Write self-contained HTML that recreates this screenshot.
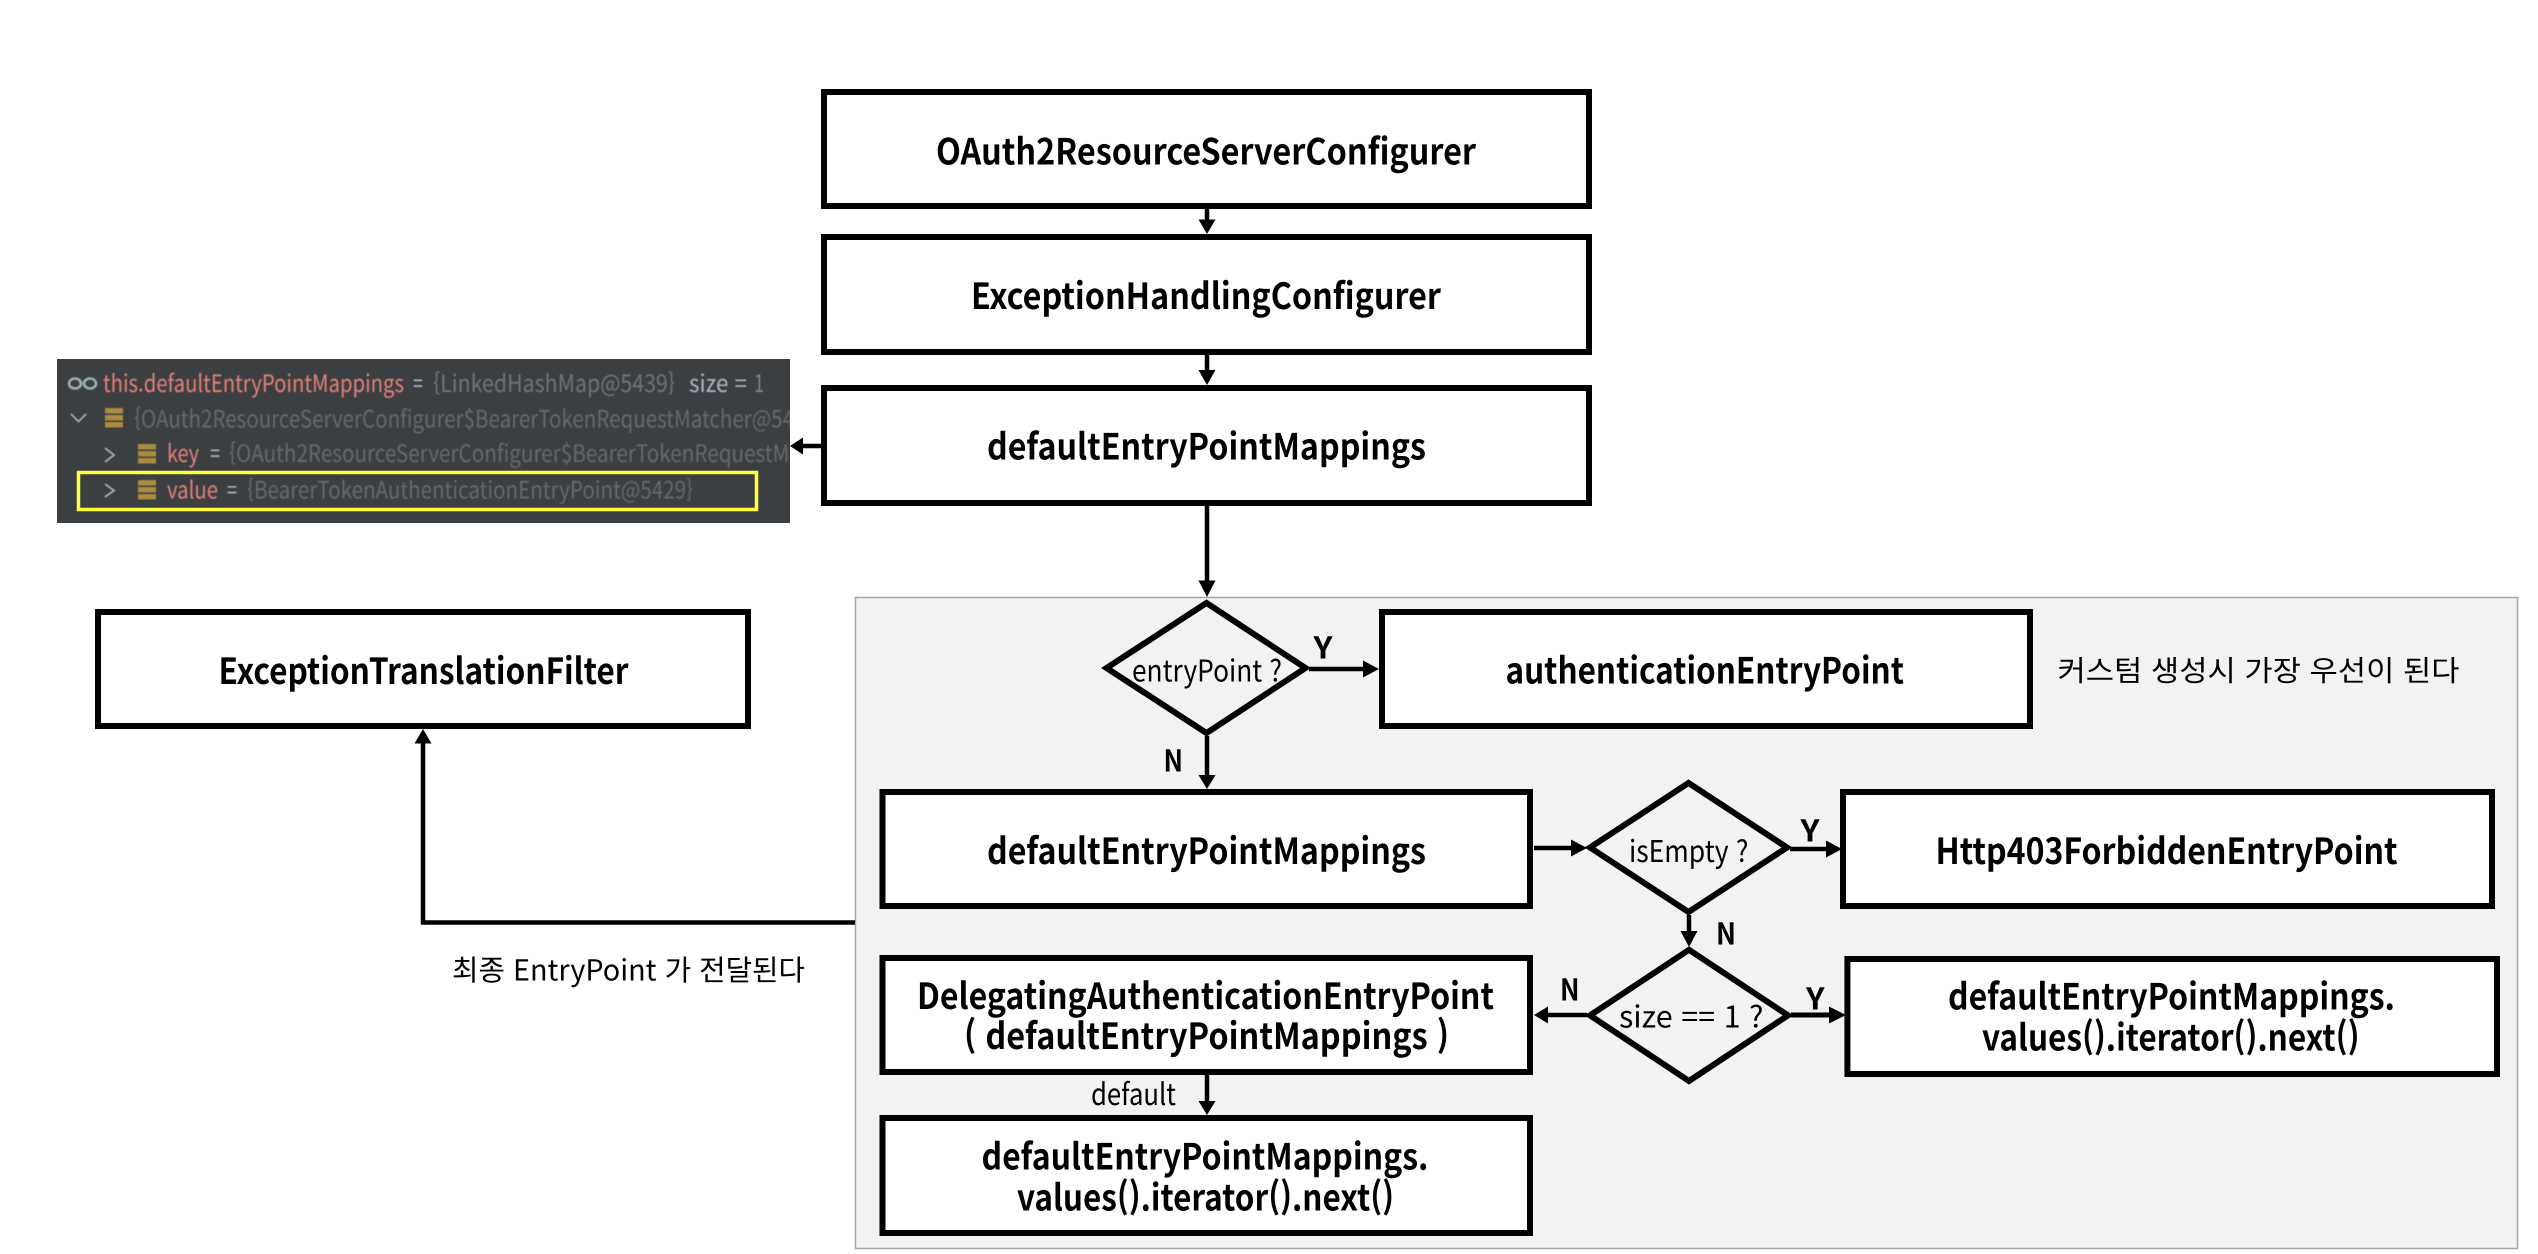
<!DOCTYPE html>
<html lang="ko">
<head>
<meta charset="utf-8">
<title>EntryPoint flow</title>
<style>
html,body{margin:0;padding:0;background:#fff;width:2538px;height:1254px;overflow:hidden}
svg{display:block}
text{font-family:"Noto Sans CJK KR","Liberation Sans",sans-serif;text-rendering:geometricPrecision;fill:#000}
.b{font-weight:700;font-size:36px}
.l{font-weight:700;font-size:30px}
.r{font-weight:400;font-size:30px}
.k{font-weight:400;font-size:29px}
.box{fill:#fff;stroke:#000;stroke-width:6}
.dia{fill:none;stroke:#000;stroke-width:6;stroke-linejoin:miter;stroke-miterlimit:10}
.ln{stroke:#000;stroke-width:4.5;fill:none}
.p{font-size:24px;font-weight:400}
.red{fill:#e5807a}.eq{fill:#a9b7c6}.dim{fill:#707476}.dim2{fill:#66696c}
.tan{fill:#ab8a42}
.chev{fill:none;stroke:#a9adb0;stroke-width:1.8}
</style>
</head>
<body>
<svg width="2538" height="1254" viewBox="0 0 2538 1254" xmlns="http://www.w3.org/2000/svg">
<defs><clipPath id="pc"><rect x="57" y="359" width="733" height="164"/></clipPath></defs>
<rect width="2538" height="1254" fill="#fff"/>

<!-- grey container -->
<rect x="855.5" y="597.5" width="1662" height="651" fill="#f2f2f2" stroke="#a6a6a6" stroke-width="1.5"/>

<!-- debugger panel -->
<rect x="57" y="359" width="733" height="164" fill="#3c3f41"/>
<g clip-path="url(#pc)" style="filter:blur(.45px)">
  <ellipse cx="75" cy="383.5" rx="6" ry="5" fill="none" stroke="#9fb0b8" stroke-width="2.6"/>
  <ellipse cx="90" cy="383.5" rx="6" ry="5" fill="none" stroke="#9fb0b8" stroke-width="2.6"/>
  <text class="p red" x="103" y="392" textLength="301" lengthAdjust="spacingAndGlyphs">this.defaultEntryPointMappings</text>
  <text class="p eq" x="413" y="392" textLength="10" lengthAdjust="spacingAndGlyphs">=</text>
  <text class="p dim" x="433" y="392" textLength="242" lengthAdjust="spacingAndGlyphs">{LinkedHashMap@5439}</text>
  <text class="p eq" x="689" y="392" textLength="58" lengthAdjust="spacingAndGlyphs">size =</text>
  <text class="p" x="754" y="392" textLength="10" lengthAdjust="spacingAndGlyphs" style="fill:#6c8a98">1</text>

  <polyline class="chev" points="71,414 78.5,421.5 86,414"/>
  <rect class="tan" x="105" y="408" width="18" height="5.5"/><rect class="tan" x="105" y="415" width="18" height="5.5"/><rect class="tan" x="105" y="422" width="18" height="5.5"/>
  <text class="p dim2" x="134" y="427.5" textLength="660" lengthAdjust="spacingAndGlyphs">{OAuth2ResourceServerConfigurer$BearerTokenRequestMatcher@54</text>

  <polyline class="chev" points="105,448 114,455 105,462"/>
  <rect class="tan" x="138" y="444" width="18" height="5.5"/><rect class="tan" x="138" y="451" width="18" height="5.5"/><rect class="tan" x="138" y="458" width="18" height="5.5"/>
  <text class="p red" x="167" y="462" textLength="32" lengthAdjust="spacingAndGlyphs">key</text>
  <text class="p eq" x="210" y="462" textLength="10" lengthAdjust="spacingAndGlyphs">=</text>
  <text class="p dim2" x="229" y="462" textLength="572" lengthAdjust="spacingAndGlyphs">{OAuth2ResourceServerConfigurer$BearerTokenRequestMa</text>

  <polyline class="chev" points="105,484 114,490.5 105,497"/>
  <rect class="tan" x="138" y="480" width="18" height="5.5"/><rect class="tan" x="138" y="487" width="18" height="5.5"/><rect class="tan" x="138" y="494" width="18" height="5.5"/>
  <text class="p red" x="167" y="498.5" textLength="51" lengthAdjust="spacingAndGlyphs">value</text>
  <text class="p eq" x="227" y="498.5" textLength="10" lengthAdjust="spacingAndGlyphs">=</text>
  <text class="p dim2" x="247" y="498.5" textLength="446" lengthAdjust="spacingAndGlyphs">{BearerTokenAuthenticationEntryPoint@5429}</text>
</g>
<rect x="78.5" y="472.5" width="678" height="37" fill="none" stroke="#ffff3c" stroke-width="3.5"/>

<!-- connectors -->
<line class="ln" x1="1207" y1="208" x2="1207" y2="222"/><polygon points="1198.5,219.5 1215.5,219.5 1207,234"/>
<line class="ln" x1="1207" y1="355" x2="1207" y2="372"/><polygon points="1198.5,370 1215.5,370 1207,385"/>
<line class="ln" x1="1207" y1="506" x2="1207" y2="583"/><polygon points="1198.5,580.5 1215.5,580.5 1207,597"/>
<line class="ln" x1="821" y1="446" x2="800" y2="446"/><polygon points="803,437.5 803,454.5 790,446"/>
<line class="ln" x1="1309" y1="669" x2="1366" y2="669"/><polygon points="1363,660.5 1363,677.5 1379,669"/>
<line class="ln" x1="1207" y1="736" x2="1207" y2="778"/><polygon points="1198.5,775 1215.5,775 1207,789"/>
<line class="ln" x1="1534" y1="848" x2="1574" y2="848"/><polygon points="1571,839.5 1571,856.5 1587,848"/>
<line class="ln" x1="1790" y1="849" x2="1829" y2="849"/><polygon points="1826,840.5 1826,857.5 1842,849"/>
<line class="ln" x1="1689" y1="915" x2="1689" y2="933"/><polygon points="1680.5,931 1697.5,931 1689,947"/>
<line class="ln" x1="1587" y1="1015" x2="1544" y2="1015"/><polygon points="1548,1006.5 1548,1023.5 1534,1015"/>
<line class="ln" x1="1791" y1="1015" x2="1832" y2="1015" style="stroke-width:5"/><polygon points="1829,1006.5 1829,1023.5 1846,1015"/>
<line class="ln" x1="1207" y1="1075" x2="1207" y2="1103"/><polygon points="1198.5,1101 1215.5,1101 1207,1115"/>
<polyline class="ln" points="855,922.5 423,922.5 423,741"/><polygon points="414.5,743.5 431.5,743.5 423,729"/>

<!-- boxes -->
<rect class="box" x="824" y="92" width="765" height="114"/>
<rect class="box" x="824" y="237" width="765" height="115"/>
<rect class="box" x="824" y="388" width="765" height="115"/>
<rect class="box" x="1382" y="612" width="648" height="114"/>
<rect class="box" x="98" y="612" width="650" height="114"/>
<rect class="box" x="882.5" y="792" width="647.5" height="114"/>
<rect class="box" x="1843" y="792" width="649" height="114"/>
<rect class="box" x="882.5" y="958" width="647.5" height="114"/>
<rect class="box" x="1847.4" y="959" width="649.6" height="115"/>
<rect class="box" x="882.5" y="1118" width="647.5" height="115"/>

<!-- diamonds -->
<polygon class="dia" points="1106.5,668 1206.5,603 1305.5,668 1206.5,733"/>
<polygon class="dia" points="1590,847.5 1688.5,783 1787,847.5 1688.5,912"/>
<polygon class="dia" points="1590,1015.4 1689,949.8 1788,1015.4 1689,1081"/>

<!-- box labels -->
<text class="b" x="936" y="164.5" textLength="540" lengthAdjust="spacingAndGlyphs">OAuth2ResourceServerConfigurer</text>
<text class="b" x="971" y="309" textLength="470" lengthAdjust="spacingAndGlyphs">ExceptionHandlingConfigurer</text>
<text class="b" x="987" y="459.5" textLength="439" lengthAdjust="spacingAndGlyphs">defaultEntryPointMappings</text>
<text class="b" x="1505.5" y="683.5" textLength="398.5" lengthAdjust="spacingAndGlyphs">authenticationEntryPoint</text>
<text class="b" x="218.5" y="684" textLength="410" lengthAdjust="spacingAndGlyphs">ExceptionTranslationFilter</text>
<text class="b" x="987" y="864" textLength="439" lengthAdjust="spacingAndGlyphs">defaultEntryPointMappings</text>
<text class="b" x="1935.5" y="864" textLength="462" lengthAdjust="spacingAndGlyphs">Http403ForbiddenEntryPoint</text>
<text class="b" x="917" y="1009" textLength="577" lengthAdjust="spacingAndGlyphs">DelegatingAuthenticationEntryPoint</text>
<text class="b" x="964" y="1049" textLength="485" lengthAdjust="spacingAndGlyphs">( defaultEntryPointMappings )</text>
<text class="b" x="1948" y="1009.5" textLength="447" lengthAdjust="spacingAndGlyphs">defaultEntryPointMappings.</text>
<text class="b" x="1982" y="1050.5" textLength="377.5" lengthAdjust="spacingAndGlyphs">values().iterator().next()</text>
<text class="b" x="981.5" y="1169.5" textLength="447" lengthAdjust="spacingAndGlyphs">defaultEntryPointMappings.</text>
<text class="b" x="1017" y="1210.5" textLength="377" lengthAdjust="spacingAndGlyphs">values().iterator().next()</text>

<!-- diamond labels -->
<text class="r" x="1132" y="681.5" textLength="150" lengthAdjust="spacingAndGlyphs">entryPoint ?</text>
<text class="r" x="1629" y="862" textLength="119.5" lengthAdjust="spacingAndGlyphs">isEmpty ?</text>
<text class="r" x="1619" y="1027.5" textLength="144.5" lengthAdjust="spacingAndGlyphs">size == 1 ?</text>

<!-- Y / N -->
<text class="l" x="1313.5" y="658.5" textLength="19" lengthAdjust="spacingAndGlyphs">Y</text>
<text class="l" x="1163.5" y="771.5" textLength="19.5" lengthAdjust="spacingAndGlyphs">N</text>
<text class="l" x="1800.5" y="841.5" textLength="19" lengthAdjust="spacingAndGlyphs">Y</text>
<text class="l" x="1716" y="944.5" textLength="20" lengthAdjust="spacingAndGlyphs">N</text>
<text class="l" x="1560" y="1000.5" textLength="19.5" lengthAdjust="spacingAndGlyphs">N</text>
<text class="l" x="1806" y="1009.5" textLength="18.5" lengthAdjust="spacingAndGlyphs">Y</text>

<!-- free labels -->
<text class="r" x="1091" y="1105" textLength="85" lengthAdjust="spacingAndGlyphs">default</text>
<text class="k" x="2057.5" y="681" textLength="402" lengthAdjust="spacingAndGlyphs">커스텀 생성시 가장 우선이 된다</text>
<text class="k" x="452" y="980.5" textLength="353" lengthAdjust="spacingAndGlyphs">최종 EntryPoint 가 전달된다</text>
</svg>
</body>
</html>
